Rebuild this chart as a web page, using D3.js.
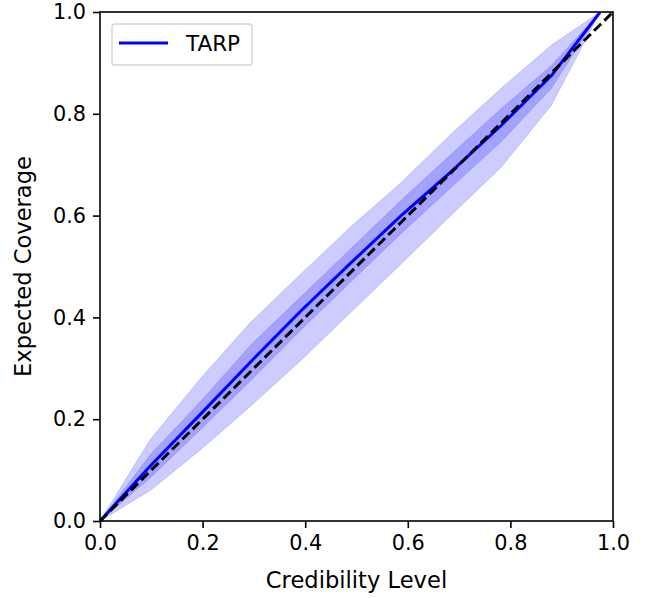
<!DOCTYPE html>
<html>
<head>
<meta charset="utf-8">
<script src="https://cdn.jsdelivr.net/npm/d3@7"></script>
<style>
  body { margin: 0; background: #fff; }
  text { font-family: "DejaVu Sans", sans-serif; }
</style>
</head>
<body>
<script>
// credibility levels (x) and coverage bands
var alpha   = [0, 0.098, 0.196, 0.293, 0.391, 0.489, 0.587, 0.684, 0.782, 0.880, 0.975];
var ecpMean = [0, 0.108, 0.210, 0.312, 0.412, 0.507, 0.600, 0.686, 0.777, 0.875, 1.0];
var lower1  = [0, 0.085, 0.180, 0.275, 0.375, 0.470, 0.565, 0.655, 0.745, 0.850, 1.0];
var upper1  = [0, 0.130, 0.235, 0.345, 0.440, 0.535, 0.630, 0.720, 0.810, 0.895, 1.0];
var lower2  = [0, 0.060, 0.140, 0.225, 0.315, 0.410, 0.505, 0.600, 0.695, 0.817, 1.0];
var upper2  = [0, 0.160, 0.280, 0.390, 0.485, 0.578, 0.665, 0.760, 0.850, 0.935, 1.0];
var ticks = [0, 0.2, 0.4, 0.6, 0.8, 1.0];

var W = 651, H = 598;
var m = {left: 100, top: 12, right: 38, bottom: 77};
var w = W - m.left - m.right,
    h = H - m.top - m.bottom;
var fs = '20.8px',
    labelFs = '22.6px';

var svg = d3.select('body').append('svg')
    .attr('width', W)
    .attr('height', H);

var x = d3.scaleLinear().domain([0, 1]).range([0, w]);
var y = d3.scaleLinear().domain([0, 1]).range([h, 0]);

svg.append('clipPath').attr('id', 'clip')
  .append('rect').attr('width', w).attr('height', h);

var g = svg.append('g').attr('transform', 'translate(' + m.left + ',' + m.top + ')');
var plot = g.append('g').attr('clip-path', 'url(#clip)');

function band(lo, hi) {
  return d3.area()
    .x(function(d, i) { return x(alpha[i]); })
    .y0(function(d, i) { return y(lo[i]); })
    .y1(function(d, i) { return y(hi[i]); })(alpha);
}

[[lower2, upper2], [lower1, upper1]].forEach(function(b) {
  plot.append('path')
    .attr('d', band(b[0], b[1]))
    .attr('fill', 'rgba(0,0,255,0.2)')
    .attr('stroke', 'rgba(0,0,255,0.15)')
    .attr('stroke-width', 1);
});

var line = d3.line()
  .x(function(d, i) { return x(alpha[i]); })
  .y(function(d) { return y(d); });

plot.append('path')
  .attr('d', line(ecpMean))
  .attr('fill', 'none')
  .attr('stroke', '#0000ff')
  .attr('stroke-width', 3);

// diagonal reference
plot.append('line')
  .attr('x1', x(0)).attr('y1', y(0))
  .attr('x2', x(1)).attr('y2', y(1))
  .attr('stroke', 'black')
  .attr('stroke-width', 3)
  .attr('stroke-dasharray', '10,4.5');

// axes
var xAxis = d3.axisBottom(x).tickValues(ticks).tickFormat(d3.format('.1f')).tickSize(7).tickPadding(7);
var yAxis = d3.axisLeft(y).tickValues(ticks).tickFormat(d3.format('.1f')).tickSize(7).tickPadding(7);

g.append('g').attr('transform', 'translate(0,' + h + ')').call(xAxis);
g.append('g').call(yAxis);

g.selectAll('.domain').remove();
g.selectAll('.tick line').attr('stroke', 'black').attr('stroke-width', 1.6);
g.selectAll('.tick text').attr('font-size', fs).attr('fill', 'black')
  .attr('font-family', 'DejaVu Sans, sans-serif');

g.append('rect')
  .attr('width', w).attr('height', h)
  .attr('fill', 'none')
  .attr('stroke', 'black')
  .attr('stroke-width', 1.6);

svg.append('text')
  .attr('x', m.left + w / 2).attr('y', 588)
  .attr('text-anchor', 'middle')
  .attr('font-size', labelFs)
  .text('Credibility Level');

svg.append('text')
  .attr('transform', 'translate(31,' + (m.top + h / 2) + ') rotate(-90)')
  .attr('text-anchor', 'middle')
  .attr('font-size', labelFs)
  .text('Expected Coverage');

// legend
var lg = svg.append('g').attr('transform', 'translate(112,24)');
lg.append('rect')
  .attr('width', 140).attr('height', 41).attr('rx', 3)
  .attr('fill', 'white').attr('fill-opacity', 0.8)
  .attr('stroke', '#d5d5d5').attr('stroke-width', 1.4);
lg.append('line')
  .attr('x1', 7).attr('x2', 56).attr('y1', 19).attr('y2', 19)
  .attr('stroke', '#0000ff').attr('stroke-width', 3);
lg.append('text')
  .attr('x', 74).attr('y', 26.5)
  .attr('font-size', '21.5px')
  .text('TARP');
</script>
</body>
</html>
